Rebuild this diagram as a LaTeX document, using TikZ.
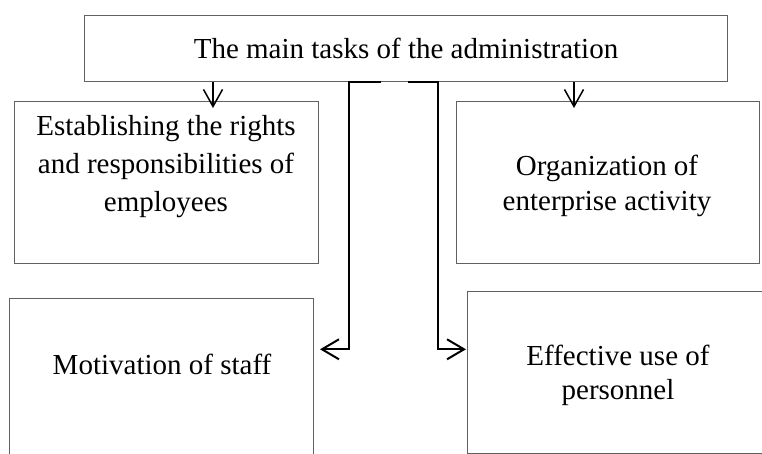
\documentclass[tikz,border=0pt]{standalone}
\usepackage{fontspec}
\setmainfont{Liberation Serif}
\usetikzlibrary{arrows.meta}
\begin{document}
\begin{tikzpicture}[x=1pt,y=-1pt,
  box/.style={draw=black!62, line width=1pt, rectangle, inner sep=0pt, anchor=north west},
  lbl/.style={align=center, inner sep=0pt},
  conn/.style={draw=black, line width=2pt, -{Straight Barb[length=17pt,width=20pt,line width=2pt]}},
  tarr/.style={draw=black, line width=1.5pt, -{Straight Barb[length=17pt,width=19pt,line width=1.5pt]}}
]
\useasboundingbox[fill=white] (0,0) rectangle (762,453);
\clip (0,0) rectangle (762,453);
% boxes
\node[box, minimum width=643pt, minimum height=66.6pt] (top) at (84.3,14.7) {};
\node[box, minimum width=303.4pt, minimum height=162.8pt] (L1) at (14.3,100.5) {};
\node[box, minimum width=303.3pt, minimum height=162pt] (R1) at (455.7,101) {};
\node[box, minimum width=304pt, minimum height=170pt] (L2) at (9.3,297.7) {};
\node[box, minimum width=320pt, minimum height=161.8pt] (R2) at (466.7,290.7) {};
% texts
\node[lbl, anchor=base, font=\fontsize{29}{36}\selectfont] (tTop) at (406,58) {The main tasks of the administration};
\node[lbl, font=\fontsize{29}{38}\selectfont] (tL1) at (166,167) {Establishing the rights\\and responsibilities of\\employees};
\node[lbl, font=\fontsize{29}{35}\selectfont] (tR1) at (607,185.7) {Organization of\\enterprise activity};
\node[lbl, anchor=base, font=\fontsize{29}{36}\selectfont] (tL2) at (162,374) {Motivation of staff};
\node[lbl, font=\fontsize{29}{34}\selectfont] (tR2) at (618,375) {Effective use of\\personnel};
% connectors
\coordinate (aL) at (213,108);
\coordinate (aR) at (574,108);
\coordinate (tipL) at (320,349.3);
\coordinate (tipR) at (466,349.3);
\draw[tarr] (top.south -| aL) -- (aL);
\draw[tarr] (top.south -| aR) -- (aR);
\draw[conn] (top.south -| 380.7,0) -| (349.3,349.3) -- (tipL);
\draw[conn] (top.south -| 407.7,0) -| (438,349.3) -- (tipR);
\end{tikzpicture}
\end{document}
